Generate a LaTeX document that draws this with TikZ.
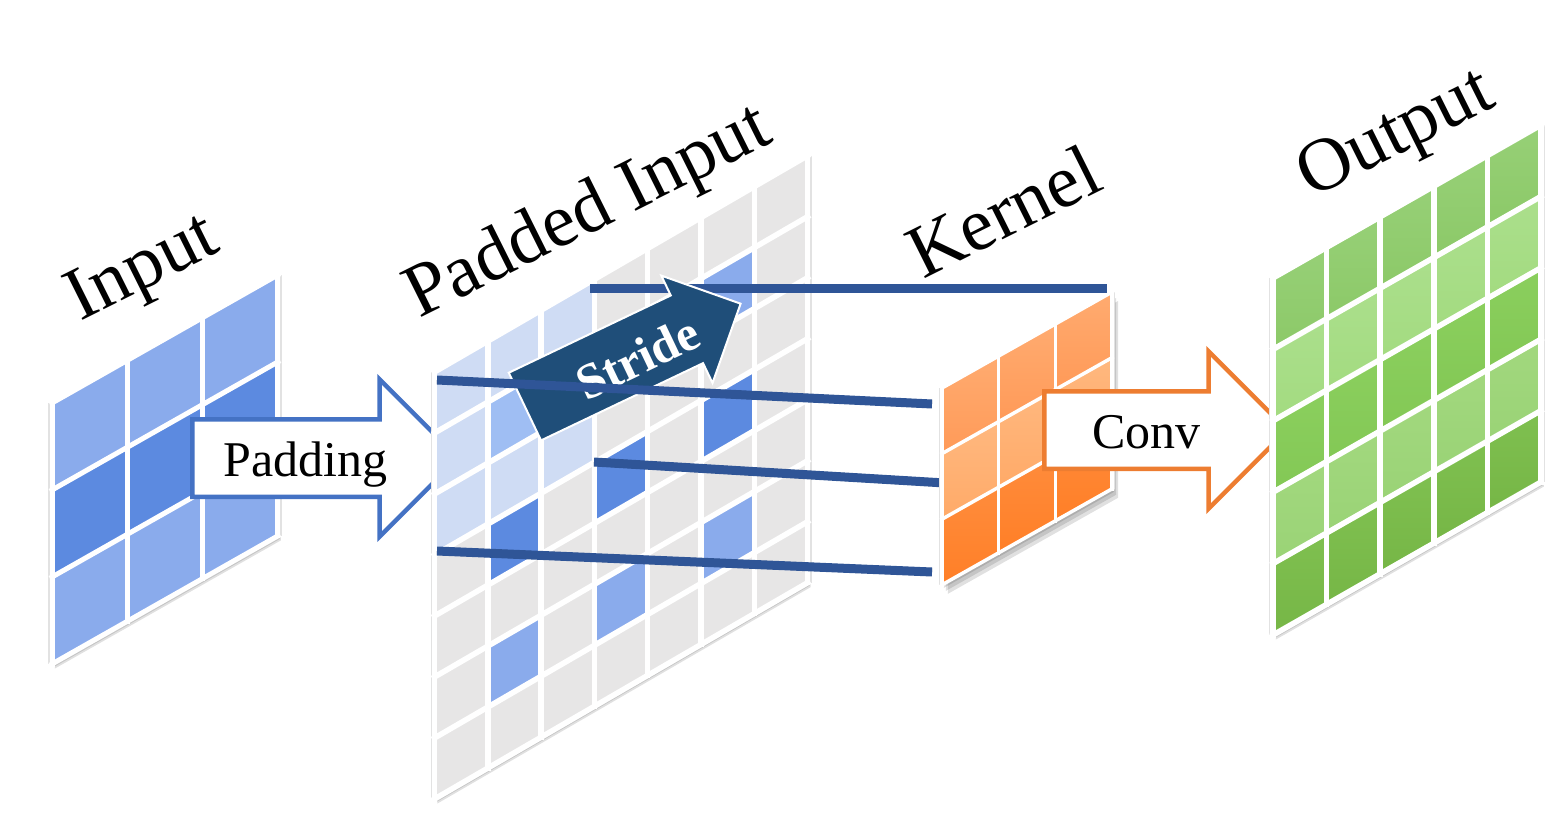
\documentclass[tikz,border=0pt]{standalone}
\usepackage{fontspec}
\setmainfont{Liberation Serif}
\usetikzlibrary{shapes.arrows}

\definecolor{bluedark}{HTML}{5C8AE0}
\definecolor{bluemid}{HTML}{8AABEC}
\definecolor{bluepale}{HTML}{CFDCF4}
\definecolor{bluesoft}{HTML}{9FBEF3}
\definecolor{cellgrey}{HTML}{E7E6E6}
\definecolor{planeedge}{HTML}{E2E2E2}
\definecolor{linkblue}{HTML}{2F5597}
\definecolor{stridefill}{HTML}{1F4E79}
\definecolor{padline}{HTML}{4472C4}
\definecolor{convline}{HTML}{ED7D31}

\tikzset{
  title/.style={font=\fontsize{75}{80}\selectfont,inner sep=0pt,rotate=26.5},
  gridline/.style={white,line width=#1},
  softshade/.style={black,opacity=.12},
  linkline/.style={linkblue,line width=9pt},
  bigarrow/.style={shape=single arrow,draw=#1,fill=white,line width=4.5pt,
    single arrow tip angle=90,inner sep=0pt,text height=55pt,text depth=18pt,
    font=\fontsize{50}{60}\selectfont},
}

% one panel, in the skewed units of its scope: cols, rows, shadow shift
\newcommand{\planeback}[3]{
  \foreach \s in {1,2,3}
    \fill[softshade,xshift=\s*#3*.33pt,yshift=-\s*#3*.5pt]
      (0,0) -- (#1,0) -- (#1,#2) -- (0,#2) -- cycle;
  \fill[white] (0,0) -- (#1,0) -- (#1,#2) -- (0,#2) -- cycle;
}
\newcommand{\gridlines}[3]{
  \draw[planeedge,line width=1.2pt,xshift=-#3*.6] (0,0) -- (0,#2);
  \draw[planeedge,line width=1.2pt,xshift=#3*.6] (#1,0) -- (#1,#2);
  \foreach \i in {0,...,#1} \draw[gridline=#3,line cap=rect] (\i,0) -- (\i,#2);
  \foreach \j in {0,...,#2} \draw[gridline=#3,line cap=rect] (0,\j) -- (#1,\j);
}
\newcommand{\gridcell}[3]{
  \fill[#3] (#1,#2) -- ++(1,0) -- ++(0,1) -- ++(-1,0) -- cycle;
}
\newcommand{\shadecell}[4]{
  \shade[top color=#3,bottom color=#4] (#1,#2) -- ++(1,0) -- ++(0,1) -- ++(-1,0) -- cycle;
}
\newcommand{\linkdraw}[2]{
  \foreach \s in {1,2,3}
    \draw[softshade,line width=8pt,yshift=-\s*1.7pt] (#1) -- (#2);
  \draw[linkline] (#1) -- (#2);
}

\definecolor{korangeA}{HTML}{FFAB70}
\definecolor{korangeB}{HTML}{FF9A58}
\definecolor{korangeC}{HTML}{FFB87F}
\definecolor{korangeD}{HTML}{FFAA68}
\definecolor{korangeE}{HTML}{FF8C3C}
\definecolor{korangeF}{HTML}{FF7F27}
\definecolor{ogreenA}{HTML}{97D077}
\definecolor{ogreenB}{HTML}{8CC968}
\definecolor{ogreenC}{HTML}{ABDF8C}
\definecolor{ogreenD}{HTML}{A3DB80}
\definecolor{ogreenE}{HTML}{8BCF5E}
\definecolor{ogreenF}{HTML}{83C855}
\definecolor{ogreenG}{HTML}{A2D87E}
\definecolor{ogreenH}{HTML}{9AD376}
\definecolor{ogreenI}{HTML}{7FC050}
\definecolor{ogreenJ}{HTML}{76B646}

\begin{document}
\begin{tikzpicture}[x=1pt,y=-1pt]
\useasboundingbox (0,0) rectangle (1566,818);

% input
\begin{scope}[shift={(52,403)},x={(75.3pt,42.7pt)},y={(0pt,-87pt)}]
  \planeback{3}{3}{3}
  \foreach \c in {0,1,2} {\foreach \r/\col in {0/bluemid,1/bluedark,2/bluemid} {
    \gridcell{\c}{\r}{\col}
  }}
  \gridlines{3}{3}{5pt}
\end{scope}

\node (padarrow) [bigarrow=padline,anchor=tail,minimum height=266pt,minimum width=154pt,
  single arrow head extend=40pt] at (190,458) {Padding\hspace{58pt}};

% padded input
\begin{scope}[shift={(434.5,372)},x={(53.3pt,30.9pt)},y={(0pt,-61pt)}]
  \planeback{7}{7}{3}
  \foreach \c in {0,...,6} {\foreach \r in {0,...,6} {
    \gridcell{\c}{\r}{cellgrey}
  }}
  \foreach \c in {0,1,2} {\foreach \r in {0,1,2} {
    \gridcell{\c}{\r}{bluepale}
  }}
  \gridcell{1}{1}{bluesoft}
  \gridcell{5}{1}{bluemid}
  \gridcell{1}{3}{bluedark}
  \gridcell{3}{3}{bluedark}
  \gridcell{5}{3}{bluedark}
  \gridcell{1}{5}{bluemid}
  \gridcell{3}{5}{bluemid}
  \gridcell{5}{5}{bluemid}
  \gridlines{7}{7}{5.5pt}
\end{scope}

% link ends
\coordinate (pad1) at (590,289);
\coordinate (ker1) at (1107,289);
\coordinate (pad2) at (437,380);
\coordinate (ker2) at (932,404);
\coordinate (pad3) at (594,462);
\coordinate (ker3) at (945,483);
\coordinate (pad4) at (437,551);
\coordinate (ker4) at (932,572);

\linkdraw{pad1}{ker1}

\node (stridearrow) [shape=single arrow,draw=white,fill=stridefill,line width=2pt,text=white,
  single arrow tip angle=90,inner sep=0pt,anchor=tail,rotate=25.5,minimum height=239pt,
  minimum width=117pt,single arrow head extend=22pt,text height=58pt,text depth=15pt,
  font=\bfseries\fontsize{50}{60}\selectfont] at (524,407) {\hspace{44pt}Stride};

\linkdraw{pad2}{ker2}
\linkdraw{pad3}{ker3}
\linkdraw{pad4}{ker4}

% kernel
\begin{scope}[shift={(942,388)},x={(56.7pt,32pt)},y={(0pt,-65.6pt)}]
  \planeback{3}{3}{6}
  \foreach \c in {0,1,2} {
    \shadecell{\c}{0}{korangeA}{korangeB}
    \shadecell{\c}{1}{korangeC}{korangeD}
    \shadecell{\c}{2}{korangeE}{korangeF}
  }
  \gridlines{3}{3}{3.5pt}
\end{scope}

\node (convarrow) [bigarrow=convline,anchor=tail,minimum height=243pt,minimum width=154pt,
  single arrow head extend=40pt] at (1042,430) {Conv\hspace{59pt}};

% output
\begin{scope}[shift={(1273,278)},x={(53.6pt,30.6pt)},y={(0pt,-71.4pt)}]
  \planeback{5}{5}{3}
  \foreach \c in {0,...,4} {
    \shadecell{\c}{0}{ogreenA}{ogreenB}
    \shadecell{\c}{1}{ogreenC}{ogreenD}
    \shadecell{\c}{2}{ogreenE}{ogreenF}
    \shadecell{\c}{3}{ogreenG}{ogreenH}
    \shadecell{\c}{4}{ogreenI}{ogreenJ}
  }
  \gridlines{5}{5}{5.5pt}
\end{scope}

\node (inputtitle) [title] at (144,271) {Input};
\node (paddedtitle) [title] at (589,214) {Padded Input};
\node (kerneltitle) [title] at (1003,211) {Kernel};
\node (outputtitle) [title] at (1397,137) {Output};
\end{tikzpicture}
\end{document}
